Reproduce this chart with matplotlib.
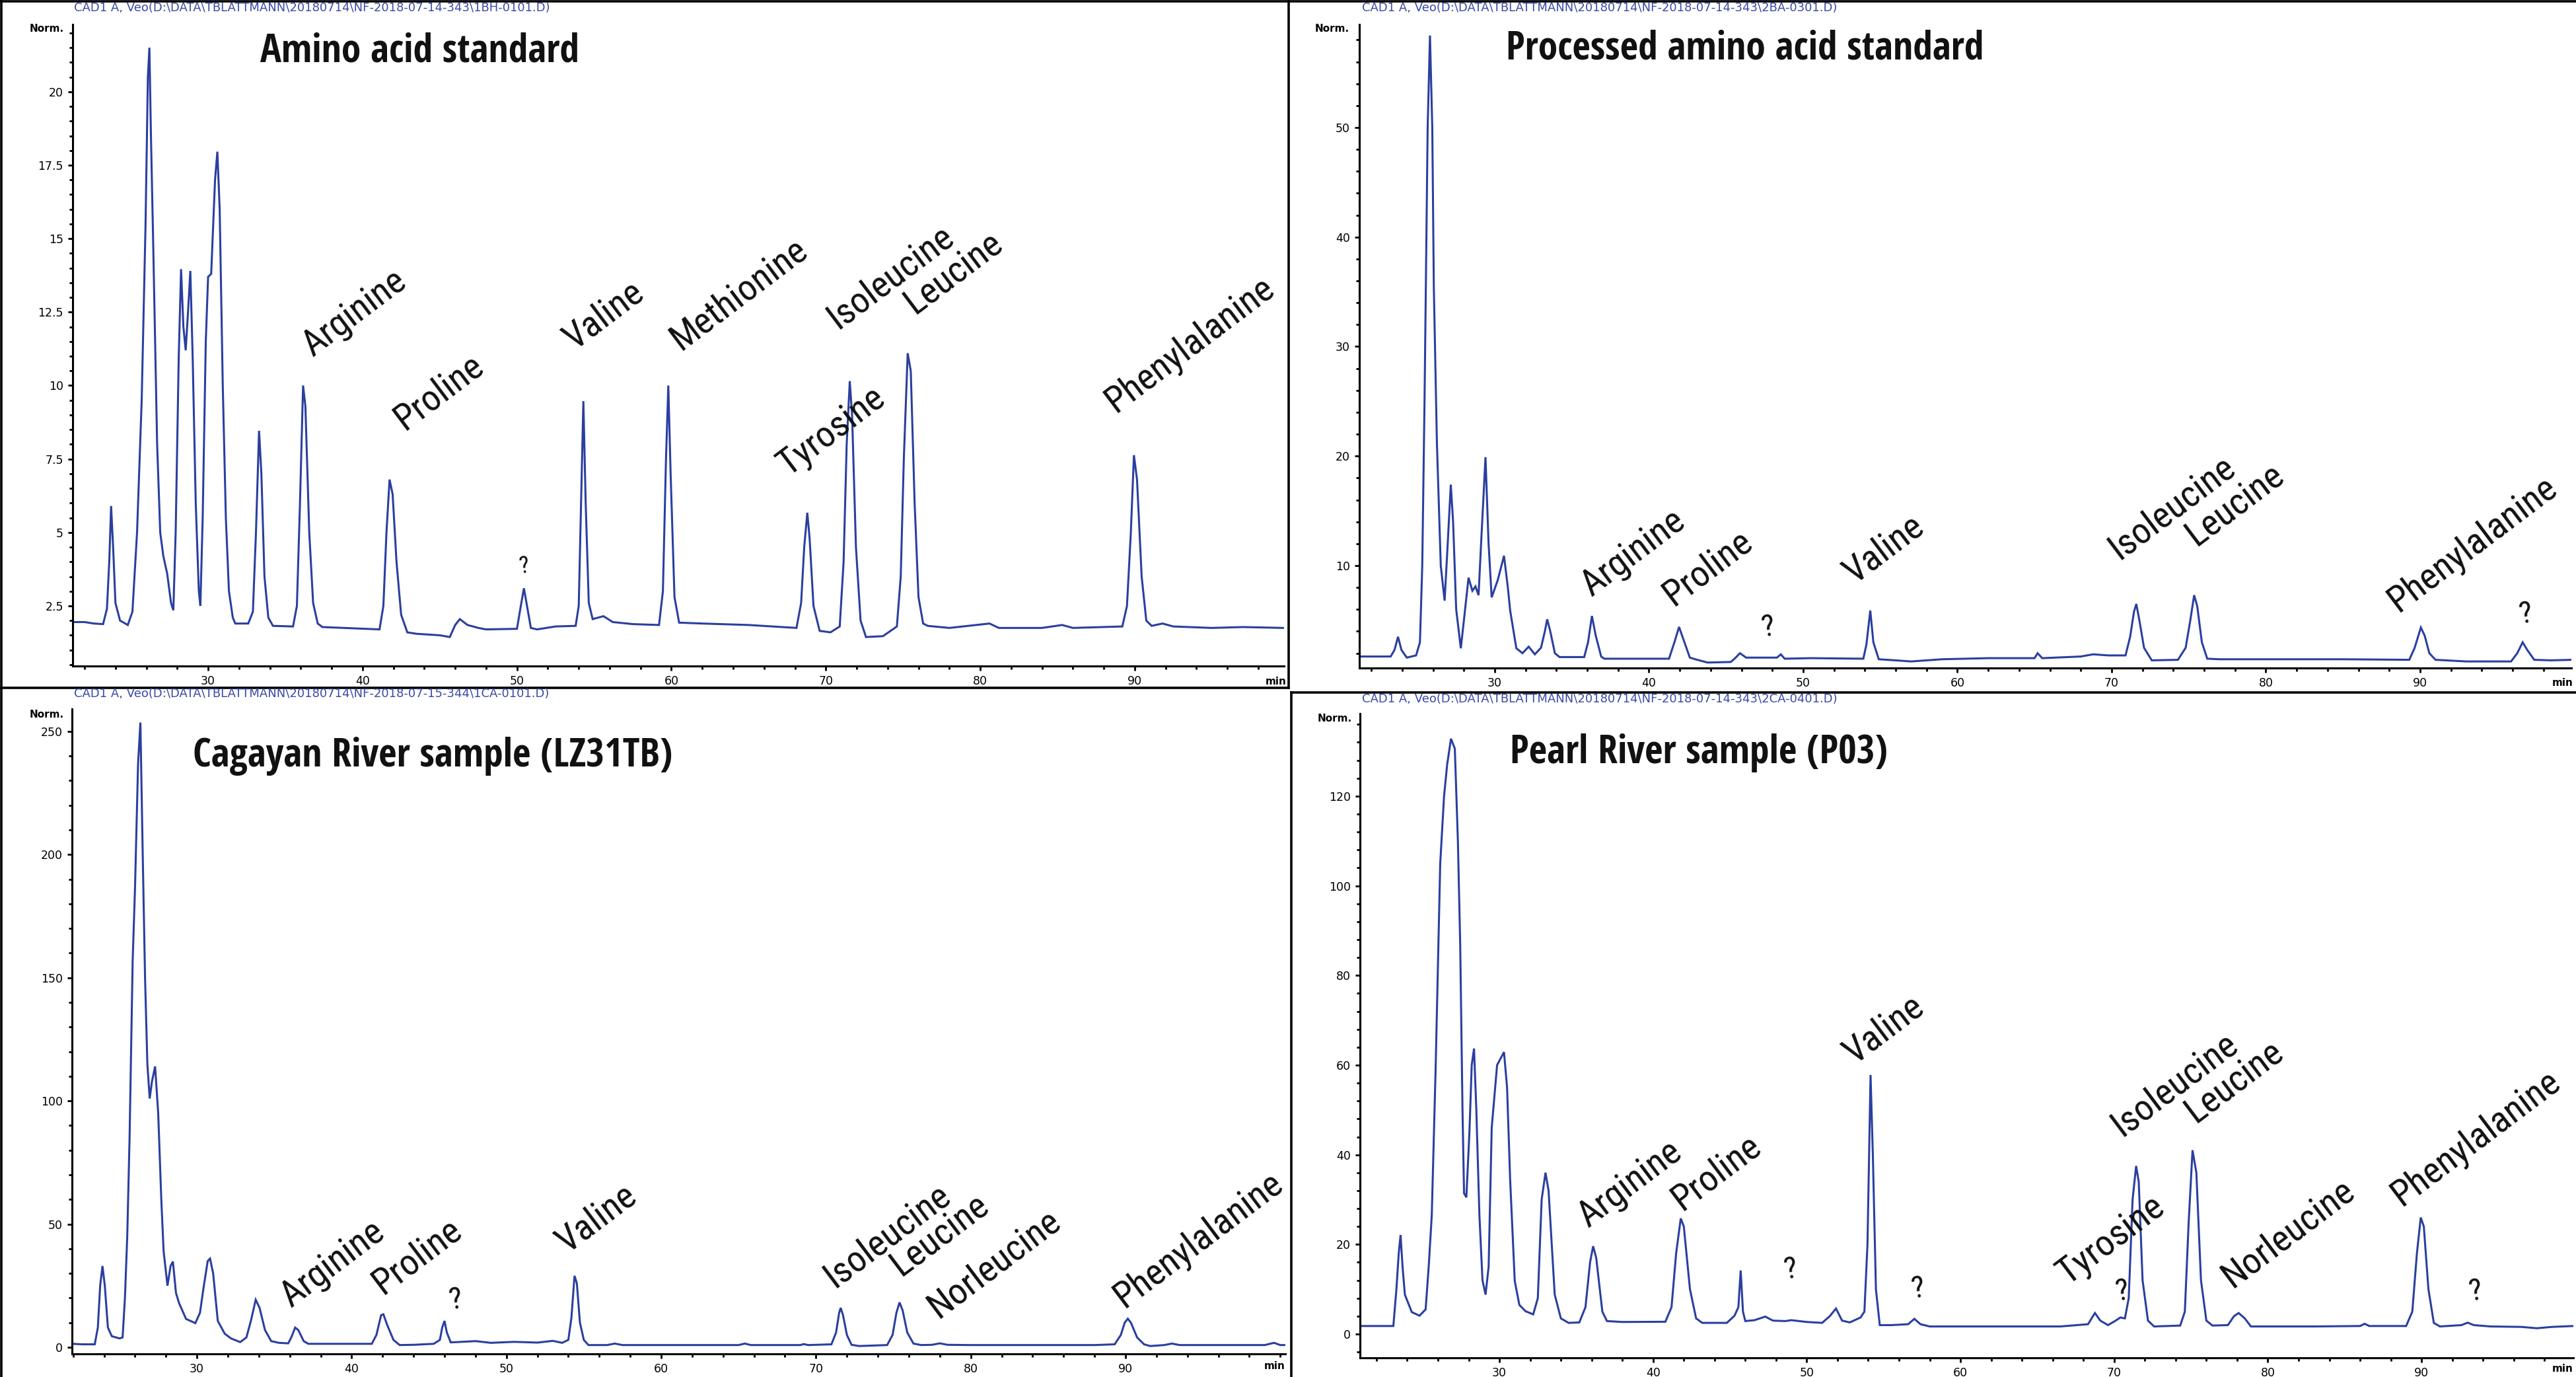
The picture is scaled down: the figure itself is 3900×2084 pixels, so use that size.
import matplotlib
matplotlib.use("Agg")
import matplotlib.pyplot as plt
from matplotlib import font_manager
from matplotlib.font_manager import FontProperties
from matplotlib.ticker import FixedLocator, FixedFormatter, MultipleLocator
from matplotlib.lines import Line2D

# ---------------------------------------------------------------- data
x_major = [30, 40, 50, 60, 70, 80, 90]
x_major_labels = ["30", "40", "50", "60", "70", "80", "90"]

# --- Amino acid standard (top left)
tl_header = r"CAD1 A, Veo(D:\DATA\TBLATTMANN\20180714\NF-2018-07-14-343\1BH-0101.D)"
tl_title = "Amino acid standard"
tl_yticks = [2.5, 5, 7.5, 10, 12.5, 15, 17.5, 20]
tl_yticklabels = ["2.5", "5", "7.5", "10", "12.5", "15", "17.5", "20"]
tl_trace = [
    (21.25, 1.95), (22.0, 1.95), (22.6, 1.9), (23.2, 1.88), (23.45, 2.4), (23.6, 4.0),
    (23.72, 5.9), (23.85, 4.5), (24.0, 2.6), (24.3, 2.0), (24.8, 1.85), (25.1, 2.3),
    (25.4, 5.0), (25.7, 9.5), (25.95, 15.5), (26.1, 20.5), (26.2, 21.5), (26.3, 18.5),
    (26.45, 14.7), (26.7, 8.0), (26.9, 5.0), (27.1, 4.2), (27.35, 3.6), (27.6, 2.6),
    (27.75, 2.35), (27.9, 5.0), (28.1, 11.0), (28.25, 13.96), (28.4, 12.0), (28.55, 11.2),
    (28.7, 12.5), (28.85, 13.9), (29.0, 11.0), (29.2, 6.0), (29.4, 3.0), (29.5, 2.5),
    (29.65, 5.5), (29.85, 11.5), (30.0, 13.7), (30.2, 13.8), (30.45, 17.0), (30.6, 17.96),
    (30.75, 16.0), (30.95, 10.0), (31.15, 5.5), (31.35, 3.0), (31.6, 2.1), (31.76, 1.9),
    (32.6, 1.9), (32.9, 2.3), (33.1, 5.0), (33.3, 8.46), (33.45, 7.0), (33.65, 3.5),
    (33.9, 2.1), (34.2, 1.82), (35.5, 1.8), (35.75, 2.5), (35.95, 6.0), (36.15, 10.0),
    (36.3, 9.3), (36.55, 5.0), (36.8, 2.6), (37.1, 1.9), (37.4, 1.78), (41.1, 1.7),
    (41.35, 2.5), (41.55, 5.0), (41.75, 6.8), (41.95, 6.3), (42.2, 4.0), (42.5, 2.2),
    (42.9, 1.6), (43.5, 1.55), (45.0, 1.5), (45.65, 1.44), (46.0, 1.85), (46.3, 2.05),
    (46.8, 1.85), (47.5, 1.75), (48.0, 1.7), (50.0, 1.72), (50.25, 2.5), (50.45, 3.1),
    (50.65, 2.5), (50.9, 1.75), (51.3, 1.7), (52.5, 1.8), (53.8, 1.82), (54.0, 2.5),
    (54.15, 6.0), (54.3, 9.47), (54.45, 6.0), (54.65, 2.6), (54.9, 2.05), (55.6, 2.15),
    (56.2, 1.95), (57.5, 1.88), (59.2, 1.85), (59.45, 3.0), (59.65, 7.5), (59.8, 10.0),
    (59.95, 7.0), (60.2, 2.8), (60.5, 1.93), (62.0, 1.9), (65.0, 1.85), (68.1, 1.75),
    (68.4, 2.6), (68.6, 4.5), (68.8, 5.67), (68.95, 4.8), (69.2, 2.5), (69.6, 1.65),
    (70.3, 1.6), (70.9, 1.8), (71.15, 4.0), (71.35, 8.0), (71.55, 10.15), (71.7, 9.0),
    (71.95, 4.5), (72.25, 2.0), (72.6, 1.44), (73.7, 1.47), (74.6, 1.8), (74.85, 3.5),
    (75.05, 7.5), (75.3, 11.1), (75.5, 10.5), (75.75, 6.0), (76.0, 2.8), (76.3, 1.9),
    (76.6, 1.82), (78.0, 1.75), (80.6, 1.9), (81.2, 1.75), (84.0, 1.75), (85.3, 1.85),
    (86.0, 1.75), (89.2, 1.8), (89.5, 2.5), (89.75, 5.0), (89.95, 7.63), (90.15, 6.8),
    (90.45, 3.5), (90.75, 2.0), (91.1, 1.82), (91.8, 1.9), (92.5, 1.8), (95.0, 1.75),
    (97.0, 1.78), (99.6, 1.75),
]
tl_labels = [
    ("Arginine", 36.8, 10.95), ("Proline", 42.7, 8.46), ("Valine", 53.7, 11.2),
    ("Methionine", 60.6, 11.2), ("Tyrosine", 67.55, 6.9), ("Isoleucine", 70.75, 11.9),
    ("Leucine", 75.8, 12.4), ("Phenylalanine", 88.75, 9.06),
]
tl_unknowns = [(50.2, 3.6)]

# --- Processed amino acid standard (top right)
tr_header = r"CAD1 A, Veo(D:\DATA\TBLATTMANN\20180714\NF-2018-07-14-343\2BA-0301.D)"
tr_title = "Processed amino acid standard"
tr_yticks = [10, 20, 30, 40, 50]
tr_yticklabels = ["10", "20", "30", "40", "50"]
tr_trace = [
    (21.25, 1.7), (22.5, 1.7), (23.25, 1.7), (23.5, 2.3), (23.73, 3.5), (23.95, 2.3),
    (24.3, 1.6), (24.9, 1.8), (25.15, 3.0), (25.3, 10.0), (25.45, 25.3), (25.65, 50.0),
    (25.8, 58.4), (25.95, 50.0), (26.05, 35.4), (26.25, 21.2), (26.5, 10.0), (26.75, 6.8),
    (26.95, 12.0), (27.15, 17.4), (27.3, 14.0), (27.5, 6.0), (27.8, 2.45), (28.0, 5.0),
    (28.3, 8.9), (28.55, 7.7), (28.75, 8.1), (28.95, 7.3), (29.15, 13.0), (29.4, 19.9),
    (29.6, 12.0), (29.8, 7.1), (30.2, 8.7), (30.6, 10.9), (30.85, 8.0), (31.0, 5.9),
    (31.4, 2.45), (31.8, 2.0), (32.2, 2.6), (32.6, 1.9), (33.0, 2.5), (33.25, 4.0),
    (33.4, 5.1), (33.6, 4.0), (33.9, 2.0), (34.2, 1.65), (35.8, 1.65), (36.05, 3.0),
    (36.3, 5.4), (36.55, 3.6), (36.9, 1.7), (37.1, 1.5), (41.3, 1.5), (41.65, 3.0),
    (41.95, 4.4), (42.25, 3.2), (42.65, 1.6), (43.0, 1.45), (43.8, 1.15), (45.3, 1.2),
    (45.55, 1.5), (45.9, 2.0), (46.3, 1.6), (48.3, 1.6), (48.55, 1.9), (48.8, 1.5),
    (50.5, 1.55), (53.9, 1.5), (54.1, 2.8), (54.35, 5.9), (54.55, 3.0), (54.9, 1.45),
    (56.0, 1.35), (57.0, 1.25), (59.0, 1.45), (62.0, 1.55), (65.0, 1.55), (65.2, 2.0),
    (65.5, 1.55), (68.0, 1.7), (68.8, 1.9), (69.8, 1.8), (70.9, 1.8), (71.2, 3.5),
    (71.45, 5.8), (71.6, 6.5), (71.8, 5.0), (72.1, 2.5), (72.6, 1.35), (74.3, 1.4),
    (74.8, 2.5), (75.1, 5.0), (75.35, 7.3), (75.55, 6.3), (75.85, 3.0), (76.2, 1.5),
    (77.0, 1.45), (80.0, 1.45), (85.0, 1.45), (89.3, 1.4), (89.65, 2.5), (90.05, 4.35),
    (90.3, 3.6), (90.6, 2.0), (91.0, 1.4), (93.0, 1.25), (95.9, 1.25), (96.3, 2.0),
    (96.65, 3.0), (96.95, 2.3), (97.4, 1.4), (98.5, 1.35), (99.8, 1.4),
]
tr_labels = [
    ("Arginine", 36.3, 7.1), ("Proline", 41.6, 6.3), ("Valine", 53.3, 8.3),
    ("Isoleucine", 70.5, 10.5), ("Leucine", 75.5, 11.7), ("Phenylalanine", 88.6, 5.7),
]
tr_unknowns = [(47.4, 3.5), (96.5, 4.7)]

# --- Cagayan River sample (bottom left)
bl_header = r"CAD1 A, Veo(D:\DATA\TBLATTMANN\20180714\NF-2018-07-15-344\1CA-0101.D)"
bl_title = "Cagayan River sample (LZ31TB)"
bl_yticks = [0, 50, 100, 150, 200, 250]
bl_yticklabels = ["0", "50", "100", "150", "200", "250"]
bl_trace = [
    (21.95, 1.4), (22.6, 1.2), (23.4, 1.2), (23.6, 8.0), (23.75, 25.0), (23.9, 33.0),
    (24.05, 25.0), (24.25, 8.0), (24.5, 4.5), (25.0, 3.6), (25.2, 4.0), (25.35, 20.0),
    (25.5, 45.0), (25.65, 85.0), (25.85, 157.0), (26.0, 186.0), (26.2, 237.0),
    (26.35, 253.6), (26.5, 200.0), (26.65, 150.0), (26.8, 115.0), (26.95, 101.0),
    (27.1, 108.0), (27.3, 114.0), (27.5, 95.0), (27.7, 60.0), (27.85, 39.0), (28.1, 25.0),
    (28.3, 33.0), (28.45, 34.8), (28.65, 22.0), (28.85, 17.9), (29.3, 11.5), (29.9, 9.8),
    (30.2, 14.0), (30.45, 25.0), (30.7, 35.0), (30.85, 36.0), (31.05, 30.0), (31.35, 10.7),
    (31.8, 5.5), (32.2, 3.6), (32.8, 2.1), (33.2, 4.0), (33.5, 11.0), (33.8, 19.3),
    (34.05, 16.0), (34.4, 7.0), (34.8, 2.5), (35.3, 1.8), (35.9, 1.6), (36.1, 4.0),
    (36.35, 8.0), (36.55, 7.0), (36.9, 2.5), (37.2, 1.4), (41.3, 1.4), (41.6, 5.0),
    (41.9, 13.0), (42.05, 13.4), (42.3, 9.0), (42.7, 3.0), (43.1, 0.9), (44.0, 1.0),
    (45.3, 1.4), (45.7, 3.0), (45.85, 8.0), (46.0, 10.7), (46.15, 6.0), (46.4, 2.0),
    (46.8, 2.1), (48.0, 2.5), (49.0, 1.8), (50.5, 2.2), (52.0, 1.9), (53.0, 2.6),
    (53.6, 1.8), (54.0, 3.0), (54.2, 12.0), (54.4, 29.0), (54.55, 26.0), (54.75, 10.0),
    (55.0, 3.0), (55.3, 0.9), (56.5, 0.9), (57.0, 1.5), (57.5, 0.9), (62.5, 0.9),
    (65.0, 0.9), (65.4, 1.5), (65.8, 0.9), (69.0, 0.9), (69.2, 1.3), (69.5, 0.9),
    (71.0, 1.2), (71.3, 6.0), (71.5, 14.0), (71.6, 16.0), (71.75, 13.0), (72.0, 5.0),
    (72.3, 1.0), (72.8, 0.5), (74.6, 0.9), (74.95, 5.0), (75.2, 14.0), (75.4, 18.2),
    (75.6, 15.0), (75.9, 6.0), (76.3, 1.5), (76.8, 0.9), (77.5, 1.0), (78.0, 1.6),
    (78.5, 1.0), (80.0, 0.9), (88.0, 0.9), (89.3, 1.2), (89.7, 5.0), (89.95, 10.0),
    (90.15, 11.6), (90.35, 10.0), (90.75, 4.0), (91.2, 1.2), (91.6, 0.5), (92.5, 0.9),
    (93.0, 1.5), (93.5, 0.9), (99.0, 0.9), (99.6, 1.8), (100.0, 0.9), (100.3, 0.9),
]
bl_labels = [
    ("Arginine", 36.1, 16.0), ("Proline", 42.0, 21.4), ("Valine", 53.9, 38.0),
    ("Isoleucine", 71.2, 24.0), ("Leucine", 75.5, 28.6), ("Norleucine", 77.9, 11.6),
    ("Phenylalanine", 89.9, 16.0),
]
bl_unknowns = [(46.4, 15.2)]

# --- Pearl River sample (bottom right)
br_header = r"CAD1 A, Veo(D:\DATA\TBLATTMANN\20180714\NF-2018-07-14-343\2CA-0401.D)"
br_title = "Pearl River sample (P03)"
br_yticks = [0, 20, 40, 60, 80, 100, 120]
br_yticklabels = ["0", "20", "40", "60", "80", "100", "120"]
br_trace = [
    (20.95, 1.8), (22.3, 1.8), (23.1, 1.8), (23.3, 10.0), (23.45, 18.0), (23.57, 22.1),
    (23.7, 15.0), (23.85, 8.8), (24.3, 4.9), (24.8, 4.1), (25.2, 5.5), (25.4, 15.0),
    (25.6, 26.5), (25.85, 59.0), (26.15, 105.0), (26.4, 120.0), (26.6, 127.0),
    (26.85, 132.8), (27.1, 130.6), (27.3, 110.0), (27.45, 87.0), (27.6, 50.0),
    (27.7, 31.4), (27.85, 30.5), (28.05, 45.0), (28.2, 60.0), (28.35, 63.7), (28.5, 50.0),
    (28.7, 26.5), (28.9, 12.0), (29.1, 8.8), (29.3, 15.0), (29.5, 46.0), (29.85, 60.0),
    (30.3, 62.9), (30.5, 55.0), (30.7, 34.4), (31.0, 11.8), (31.3, 6.5), (31.7, 5.1),
    (32.2, 4.4), (32.5, 8.0), (32.75, 30.0), (33.0, 36.0), (33.2, 32.0), (33.6, 8.8),
    (34.0, 3.5), (34.5, 2.5), (35.2, 2.6), (35.6, 6.0), (35.9, 16.0), (36.1, 19.6),
    (36.3, 17.0), (36.7, 5.0), (37.0, 2.9), (38.0, 2.7), (40.8, 2.75), (41.2, 6.0),
    (41.5, 18.0), (41.8, 25.8), (42.0, 24.0), (42.4, 10.0), (42.8, 3.5), (43.2, 2.5),
    (44.8, 2.5), (45.3, 4.1), (45.55, 6.0), (45.7, 14.2), (45.85, 5.0), (46.0, 2.9),
    (46.6, 3.1), (47.3, 3.9), (47.8, 3.0), (48.6, 2.9), (49.0, 3.1), (50.0, 2.7),
    (51.0, 2.5), (51.5, 4.0), (51.9, 5.7), (52.3, 3.0), (52.8, 2.6), (53.5, 3.7),
    (53.75, 5.0), (53.95, 20.0), (54.15, 57.8), (54.3, 40.0), (54.5, 10.0), (54.75, 2.0),
    (55.5, 2.0), (56.6, 2.2), (57.0, 3.4), (57.4, 2.2), (58.0, 1.7), (62.0, 1.7),
    (66.5, 1.7), (68.3, 2.2), (68.75, 4.7), (69.1, 3.0), (69.6, 2.0), (70.1, 3.0),
    (70.4, 3.7), (70.7, 3.5), (70.95, 8.0), (71.2, 30.0), (71.43, 37.5), (71.6, 34.0),
    (71.85, 12.0), (72.2, 3.0), (72.6, 1.7), (74.3, 1.9), (74.6, 5.0), (74.85, 25.0),
    (75.1, 41.0), (75.35, 36.0), (75.65, 12.0), (76.0, 3.0), (76.4, 1.9), (77.4, 2.0),
    (77.8, 4.0), (78.1, 4.7), (78.5, 3.5), (78.9, 1.7), (83.0, 1.7), (86.0, 1.8),
    (86.3, 2.3), (86.6, 1.8), (89.0, 1.8), (89.4, 5.0), (89.7, 18.0), (89.95, 26.0),
    (90.15, 24.0), (90.45, 10.0), (90.8, 2.5), (91.2, 1.7), (92.6, 2.0), (93.0, 2.55),
    (93.4, 2.0), (94.5, 1.7), (96.5, 1.6), (97.5, 1.3), (98.5, 1.6), (99.88, 1.8),
]
br_labels = [
    ("Arginine", 35.8, 23.6), ("Proline", 41.9, 27.5), ("Valine", 53.1, 60.0),
    ("Tyrosine", 67.0, 10.8), ("Isoleucine", 70.5, 44.0), ("Leucine", 75.3, 47.0),
    ("Norleucine", 77.7, 10.3), ("Phenylalanine", 88.7, 28.5),
]
br_unknowns = [(48.6, 12.3), (56.9, 7.9), (70.2, 7.4), (93.2, 7.4)]

# ---------------------------------------------------------------- fonts
W, H, DPI = 3900, 2084, 100
TRACE = "#2b3f9f"
HEADER = "#3a4aa8"

PREF = ["Open Sans Condensed", "Liberation Sans Narrow", "Roboto Condensed", "Noto Sans"]

def _w(v):
    if isinstance(v, str):
        return font_manager.weight_dict.get(v, 400)
    return int(v)

def condensed_file(target):
    best = None
    for f in font_manager.fontManager.ttflist:
        nm = f.name.lower()
        st = str(f.stretch).lower()
        if f.style != "normal":
            continue
        if not ("narrow" in nm or "condensed" in nm or "condensed" in st):
            continue
        rank = next((i for i, p in enumerate(PREF) if p.lower() in nm), len(PREF))
        key = (abs(_w(f.weight) - target), rank)
        if best is None or key < best[0]:
            best = (key, f.fname)
    return best

tb = condensed_file(700)
lb = condensed_file(400)
if tb is not None and tb[0][0] <= 100:
    title_fp = FontProperties(fname=tb[1], size=43)
else:
    title_fp = FontProperties(family="Open Sans", weight="bold", size=35)
if lb is not None and lb[0][0] <= 100:
    label_fp = FontProperties(fname=lb[1], size=40)
    label_small = FontProperties(fname=lb[1], size=34)
    label_tiny = FontProperties(fname=lb[1], size=26)
else:
    label_fp = FontProperties(family="Open Sans", size=32)
    label_small = FontProperties(family="Open Sans", size=28)
    label_tiny = FontProperties(family="Open Sans", size=22)

# ---------------------------------------------------------------- layout
fig = plt.figure(figsize=(W / DPI, H / DPI), dpi=DPI)
fig.patch.set_facecolor("white")

def fx(px):
    return px / W

def fy(py):
    return 1 - py / H

panels = [
    dict(trace=tl_trace, labels=tl_labels, unk=tl_unknowns, header=tl_header, title=tl_title,
         yt=tl_yticks, ytl=tl_yticklabels, yminor=0.5, box=(110, 1944, 37, 1008),
         xlim=(21.23, 99.67), ylim=(0.453, 22.29), hdr=(112, 12), norm=(97, 44), minp=(1948, 1031),
         tpos=(394, 94), unk_fp=label_tiny, unk_rot=8),
    dict(trace=tr_trace, labels=tr_labels, unk=tr_unknowns, header=tr_header, title=tr_title,
         yt=tr_yticks, ytl=tr_yticklabels, yminor=2, box=(2058, 3893, 37, 1011),
         xlim=(21.22, 99.81), ylim=(0.65, 59.41), hdr=(2062, 12), norm=(2043, 44), minp=(3896, 1034),
         tpos=(2280, 90), unk_fp=label_small, unk_rot=10),
    dict(trace=bl_trace, labels=bl_labels, unk=bl_unknowns, header=bl_header, title=bl_title,
         yt=bl_yticks, ytl=bl_yticklabels, yminor=10, box=(109, 1946, 1073, 2049),
         xlim=(21.93, 100.33), ylim=(-2.68, 259.1), hdr=(112, 1050), norm=(97, 1081), minp=(1946, 2068),
         tpos=(292, 1160), unk_fp=label_small, unk_rot=10),
    dict(trace=br_trace, labels=br_labels, unk=br_unknowns, header=br_header, title=br_title,
         yt=br_yticks, ytl=br_yticklabels, yminor=4, box=(2059, 3896, 1080, 2055),
         xlim=(20.93, 99.88), ylim=(-5.3, 138.4), hdr=(2062, 1058), norm=(2047, 1087), minp=(3896, 2071),
         tpos=(2286, 1155), unk_fp=label_small, unk_rot=10),
]

for p in panels:
    l, r, t, b = p["box"]
    ax = fig.add_axes([fx(l), fy(b), (r - l) / W, (b - t) / H])
    xs = [pt[0] for pt in p["trace"]]
    ys = [pt[1] for pt in p["trace"]]
    ax.plot(xs, ys, color=TRACE, lw=2.2, solid_joinstyle="miter")
    ax.set_xlim(*p["xlim"])
    ax.set_ylim(*p["ylim"])
    for s in ("top", "right"):
        ax.spines[s].set_visible(False)
    for s in ("left", "bottom"):
        ax.spines[s].set_linewidth(2.2)
        ax.spines[s].set_color("black")
    ax.xaxis.set_major_locator(FixedLocator(x_major))
    ax.xaxis.set_major_formatter(FixedFormatter(x_major_labels))
    ax.xaxis.set_minor_locator(MultipleLocator(2))
    ax.yaxis.set_major_locator(FixedLocator(p["yt"]))
    ax.yaxis.set_major_formatter(FixedFormatter(p["ytl"]))
    ax.yaxis.set_minor_locator(MultipleLocator(p["yminor"]))
    ax.tick_params(which="major", direction="out", length=5, width=2, colors="black",
                   labelsize=12.5, pad=5)
    ax.tick_params(which="minor", direction="out", length=3.5, width=2, colors="black")
    ax.set_facecolor("none")

    for name, tx, ty in p["labels"]:
        ax.text(tx, ty, name, rotation=37, rotation_mode="anchor", ha="left", va="baseline",
                fontproperties=label_fp, color="#111111")
    for tx, ty in p["unk"]:
        ax.text(tx, ty, "?", rotation=p["unk_rot"], rotation_mode="anchor", ha="left",
                va="baseline", fontproperties=p["unk_fp"], color="#111111")

    hx, hy = p["hdr"]
    fig.text(fx(hx), fy(hy), p["header"], fontsize=13, color=HEADER, ha="left", va="center",
             family="DejaVu Sans")
    nx, ny = p["norm"]
    fig.text(fx(nx), fy(ny), "Norm.", fontsize=11, fontweight="bold", ha="right", va="center",
             family="DejaVu Sans")
    mx, my = p["minp"]
    fig.text(fx(mx), fy(my), "min", fontsize=11, fontweight="bold", ha="right", va="center",
             family="DejaVu Sans")
    tx, ty = p["tpos"]
    fig.text(fx(tx), fy(ty), p["title"], fontproperties=title_fp,
             ha="left", va="baseline", color="#111111")

# panel frames
frame = [
    ((0, W), (2, 2)),
    ((2, 2), (0, H)),
    ((0, 1951), (1041, 1041)),
    ((1951, 1951), (0, 1041)),
    ((1955, W), (1048, 1048)),
    ((1955, 1955), (1048, H)),
]
for (x0, x1), (y0, y1) in frame:
    fig.add_artist(Line2D([fx(x0), fx(x1)], [fy(y0), fy(y1)], transform=fig.transFigure,
                          color="black", lw=2.6))

fig.savefig("out.png", dpi=DPI, facecolor="white")
